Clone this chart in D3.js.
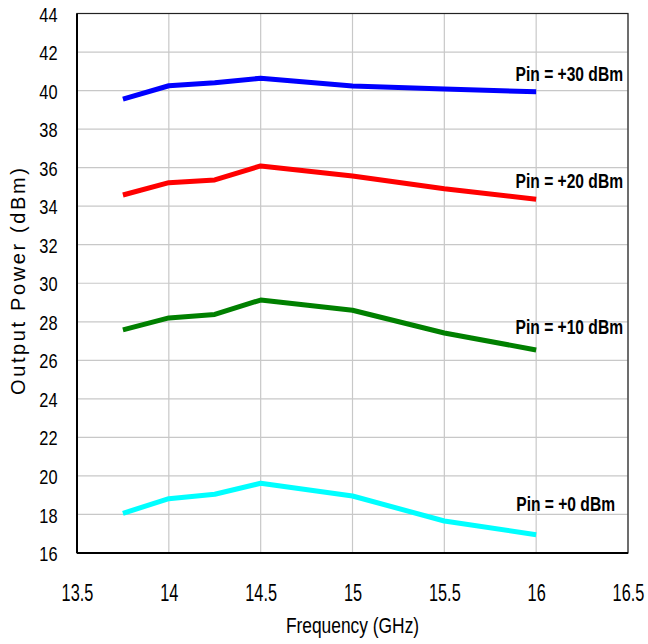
<!DOCTYPE html>
<html>
<head>
<meta charset="utf-8">
<script src="https://cdn.jsdelivr.net/npm/d3@7"></script>
<style>
  html, body { margin: 0; padding: 0; background: #fff; }
  svg { display: block; font-family: "Liberation Sans", Arial, sans-serif; }
</style>
</head>
<body>
<svg id="chart" width="648" height="644"></svg>
<script>
// Frequency points (GHz)
const freqs = [13.75, 14, 14.25, 14.5, 15, 15.5, 16];

// Output power (dBm) for each input drive level
const pin30 = [39.56, 40.25, 40.41, 40.64, 40.24, 40.08, 39.94];
const pin20 = [34.58, 35.22, 35.36, 36.09, 35.57, 34.90, 34.36];
const pin10 = [27.58, 28.20, 28.38, 29.13, 28.60, 27.42, 26.54];
const pin0  = [18.06, 18.82, 19.05, 19.62, 18.96, 17.66, 16.95];

const seriesNames  = ["Pin = +30 dBm", "Pin = +20 dBm", "Pin = +10 dBm", "Pin = +0 dBm"];
const seriesValues = [pin30, pin20, pin10, pin0];
const seriesColors = ["#0000ff", "#ff0000", "#008000", "#00ffff"];

const xTicks = [13.5, 14, 14.5, 15, 15.5, 16, 16.5];
const yTicks = [16, 18, 20, 22, 24, 26, 28, 30, 32, 34, 36, 38, 40, 42, 44];

const svg = d3.select("#chart");
const x = d3.scaleLinear().domain([13.5, 16.5]).range([77, 628]);
const y = d3.scaleLinear().domain([16, 44]).range([553, 13.5]);

// Condensed text: a group that squeezes its text horizontally
function narrowText(parent, px, py, sx, str) {
  const g = parent.append("g").attr("transform", `translate(${px},${py}) scale(${sx},1)`);
  return g.append("text").attr("x", 0).attr("y", 0).text(str);
}

// Gridlines
const grid = svg.append("g");
grid.selectAll("line.v").data(xTicks).join("line")
  .attr("x1", d => x(d)).attr("x2", d => x(d))
  .attr("y1", y(44)).attr("y2", y(16))
  .attr("stroke", "#c8c8c8").attr("stroke-width", 1.2);
grid.selectAll("line.h").data(yTicks).join("line")
  .attr("x1", x(13.5)).attr("x2", x(16.5))
  .attr("y1", d => y(d)).attr("y2", d => y(d))
  .attr("stroke", "#c8c8c8").attr("stroke-width", 1.2);

// Plot frame
svg.append("rect")
  .attr("x", x(13.5)).attr("y", y(44))
  .attr("width", x(16.5) - x(13.5)).attr("height", y(16) - y(44))
  .attr("fill", "none").attr("stroke", "#222").attr("stroke-width", 1.2);
svg.append("line")
  .attr("x1", x(13.5)).attr("x2", x(16.5)).attr("y1", y(16)).attr("y2", y(16))
  .attr("stroke", "#000").attr("stroke-width", 2);
svg.append("line")
  .attr("x1", x(13.5)).attr("x2", x(13.5)).attr("y1", y(44)).attr("y2", y(16))
  .attr("stroke", "#000").attr("stroke-width", 2);

// X axis labels (tick marks hidden)
const xSx = 0.71;
const xAxis = d3.axisBottom(x).tickValues(xTicks).tickSize(0).tickPadding(0)
  .tickFormat(d3.format("~g"));
const gx = svg.append("g").attr("transform", `translate(0,${y(16)})`).call(xAxis);
gx.select(".domain").remove();
gx.selectAll("text")
  .attr("dy", null).attr("y", 0)
  .attr("transform", `translate(0,47.5) scale(${xSx},1)`)
  .attr("font-family", "Liberation Sans, Arial, sans-serif")
  .attr("font-size", 23).attr("fill", "#000");

// Y axis labels
const ySx = 0.78;
const yAxis = d3.axisLeft(y).tickValues(yTicks).tickSize(0).tickPadding(0);
const gy = svg.append("g").attr("transform", `translate(${x(13.5)},0)`).call(yAxis);
gy.select(".domain").remove();
gy.selectAll("text")
  .attr("x", 0).attr("dy", "0.36em")
  .attr("transform", `translate(-19.5,0) scale(${ySx},1)`)
  .attr("font-family", "Liberation Sans, Arial, sans-serif")
  .attr("font-size", 21).attr("fill", "#000");

// Series lines
const line = d3.line().x((d, i) => x(freqs[i])).y(d => y(d));
svg.append("g").selectAll("path").data(seriesValues).join("path")
  .attr("d", d => line(d))
  .attr("fill", "none")
  .attr("stroke", (d, i) => seriesColors[i])
  .attr("stroke-width", 5)
  .attr("stroke-linejoin", "round");

// Series labels
const labelPos = [
  { x: 623, y: 81 },
  { x: 623, y: 187.5 },
  { x: 623, y: 333.5 },
  { x: 615, y: 511 }
];
const labels = svg.append("g");
seriesNames.forEach((name, i) => {
  narrowText(labels, labelPos[i].x, labelPos[i].y, 0.8, name)
    .attr("text-anchor", "end")
    .attr("font-size", 19.5).attr("font-weight", "bold").attr("fill", "#000");
});

// Axis titles
narrowText(svg, (x(13.5) + x(16.5)) / 2, 633, 0.79, "Frequency (GHz)")
  .attr("text-anchor", "middle").attr("font-size", 22).attr("fill", "#000");

svg.append("text")
  .attr("transform", `translate(25,281.5) rotate(-90)`)
  .attr("text-anchor", "middle")
  .attr("font-size", 20)
  .attr("textLength", 227).attr("lengthAdjust", "spacing")
  .attr("fill", "#000")
  .text("Output Power (dBm)");
</script>
</body>
</html>
